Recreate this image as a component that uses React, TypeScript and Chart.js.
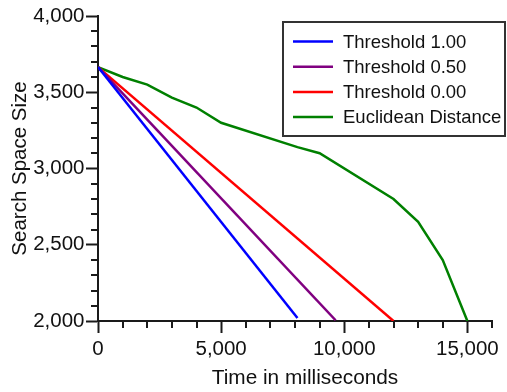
import React, { useEffect, useRef } from "react";
import { Chart, registerables } from "chart.js";

Chart.register(...registerables);

// ---- data ----
const seriesLabels = ["Threshold 1.00", "Threshold 0.50", "Threshold 0.00", "Euclidean Distance"];
const seriesColors = ["#0000ff", "#800080", "#ff0000", "#008000"];

const thr100X = [0, 8100];
const thr100Y = [3665, 2020];

const thr050X = [0, 9650];
const thr050Y = [3665, 2005];

const thr000X = [0, 12000];
const thr000Y = [3665, 2000];

const euclidX = [0, 1000, 2000, 3000, 4000, 5000, 8100, 9000, 12000, 13000, 14000, 15000];
const euclidY = [3665, 3600, 3550, 3465, 3400, 3300, 3140, 3100, 2800, 2650, 2400, 2000];

const xMajorTicks = [0, 5000, 10000, 15000];
const yMajorTicks = [2000, 2500, 3000, 3500, 4000];

const xTitleText = "Time in milliseconds";
const yTitleText = "Search Space Size";

const FONT = "'Liberation Sans', Arial, Helvetica, sans-serif";
const AXIS = "#1a1a1a";

function pts(xs: number[], ys: number[]) {
  return xs.map((x, i) => ({ x, y: ys[i] }));
}

const fmt = (v: number) => v.toLocaleString("en-US");

export default function App() {
  const ref = useRef<HTMLCanvasElement>(null);

  useEffect(() => {
    const canvas = ref.current!;

    const minorTicks = {
      id: "minorTicks",
      afterDraw(chart: any) {
        const ctx = chart.ctx;
        const xs = chart.scales.x;
        const ys = chart.scales.y;
        const ca = chart.chartArea;
        ctx.save();
        ctx.strokeStyle = AXIS;
        ctx.lineWidth = 2;
        ctx.beginPath();
        xs.ticks.forEach((t: any) => {
          if (xMajorTicks.includes(t.value)) return;
          const px = Math.round(xs.getPixelForValue(t.value));
          ctx.moveTo(px, ca.bottom);
          ctx.lineTo(px, ca.bottom + 7);
        });
        ys.ticks.forEach((t: any) => {
          if (yMajorTicks.includes(t.value)) return;
          const py = Math.round(ys.getPixelForValue(t.value));
          ctx.moveTo(ca.left - 7, py);
          ctx.lineTo(ca.left, py);
        });
        ctx.stroke();
        ctx.restore();
      },
    };

    const xTitle = {
      id: "xTitle",
      afterDraw(chart: any) {
        const ctx = chart.ctx;
        ctx.save();
        ctx.font = `20.8px ${FONT}`;
        ctx.fillStyle = "#111";
        ctx.textAlign = "center";
        ctx.textBaseline = "alphabetic";
        ctx.fillText(xTitleText, 305, 383.5);
        ctx.restore();
      },
    };

    const legendBox = {
      id: "legendBox",
      afterDraw(chart: any) {
        const ctx = chart.ctx;
        const left = 283;
        const top = 22;
        const right = 505;
        const bottom = 136;
        ctx.save();
        ctx.fillStyle = "#ffffff";
        ctx.fillRect(left, top, right - left, bottom - top);
        ctx.strokeStyle = "#333333";
        ctx.lineWidth = 2;
        ctx.strokeRect(left, top, right - left, bottom - top);
        ctx.font = `18.5px ${FONT}`;
        ctx.textAlign = "left";
        ctx.textBaseline = "middle";
        chart.data.datasets.forEach((ds: any, i: number) => {
          const y = 41.5 + i * 25.2;
          ctx.strokeStyle = ds.borderColor;
          ctx.lineWidth = 2.5;
          ctx.beginPath();
          ctx.moveTo(293, y);
          ctx.lineTo(333, y);
          ctx.stroke();
          ctx.fillStyle = "#111";
          ctx.fillText(ds.label, 343, y + 1);
        });
        ctx.restore();
      },
    };

    const datasets = [
      pts(thr100X, thr100Y),
      pts(thr050X, thr050Y),
      pts(thr000X, thr000Y),
      pts(euclidX, euclidY),
    ].map((data, i) => ({
      label: seriesLabels[i],
      data,
      borderColor: seriesColors[i],
      backgroundColor: seriesColors[i],
      borderWidth: 2.5,
      pointRadius: 0,
      fill: false,
      tension: 0,
    }));

    const chart = new Chart(canvas, {
      type: "line",
      data: { datasets },
      options: {
        responsive: false,
        animation: false,
        devicePixelRatio: 1,
        layout: { padding: { top: 16, right: 15, left: 0, bottom: 0 } },
        plugins: {
          legend: { display: false },
          tooltip: { enabled: false },
        },
        scales: {
          x: {
            type: "linear",
            min: 0,
            max: 16000,
            afterFit: (s: any) => {
              s.height = 71;
            },
            ticks: {
              stepSize: 1000,
              autoSkip: false,
              maxRotation: 0,
              padding: 4,
              color: "#111",
              font: { size: 20.5, family: FONT },
              callback: (v: any) => (xMajorTicks.includes(Number(v)) ? fmt(Number(v)) : ""),
            },
            grid: {
              drawOnChartArea: false,
              drawTicks: true,
              tickLength: 12,
              tickWidth: 2,
              tickColor: (c: any) => (c.tick && xMajorTicks.includes(c.tick.value) ? AXIS : "rgba(0,0,0,0)"),
            },
            border: { display: true, color: AXIS, width: 2 },
          },
          y: {
            type: "linear",
            min: 2000,
            max: 4000,
            afterFit: (s: any) => {
              s.width = 98;
            },
            title: {
              display: true,
              text: yTitleText,
              color: "#111",
              font: { size: 20.5, family: FONT },
              padding: { top: 8, bottom: 0 },
            },
            ticks: {
              stepSize: 100,
              autoSkip: false,
              padding: 1.5,
              color: "#111",
              font: { size: 20.5, family: FONT },
              callback: (v: any) => (yMajorTicks.includes(Number(v)) ? fmt(Number(v)) : ""),
            },
            grid: {
              drawOnChartArea: false,
              drawTicks: true,
              tickLength: 12,
              tickWidth: 2,
              tickColor: (c: any) => (c.tick && yMajorTicks.includes(c.tick.value) ? AXIS : "rgba(0,0,0,0)"),
            },
            border: { display: true, color: AXIS, width: 2 },
          },
        },
      },
      plugins: [minorTicks, xTitle, legendBox],
    });

    return () => chart.destroy();
  }, []);

  return (
    <div style={{ position: "absolute", left: 0, top: 0, width: 507, height: 392 }}>
      <canvas ref={ref} width={507} height={392} style={{ display: "block", width: 507, height: 392 }} />
    </div>
  );
}
